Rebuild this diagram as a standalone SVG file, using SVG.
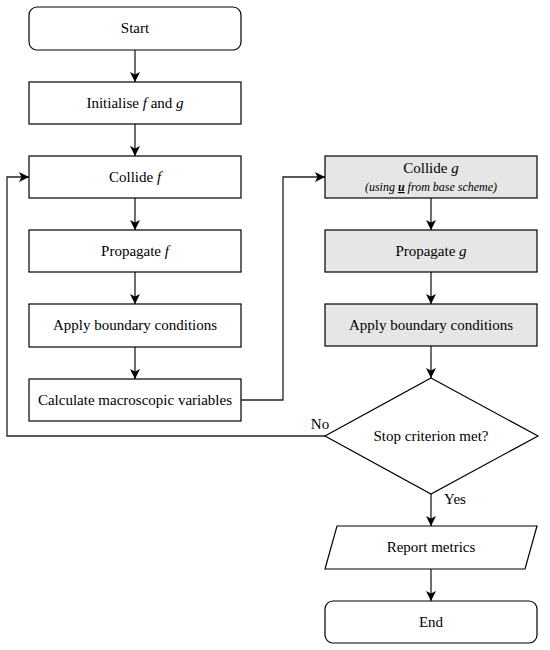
<svg xmlns="http://www.w3.org/2000/svg" width="550" height="650" viewBox="0 0 550 650">
<defs>
<marker id="ah" markerWidth="10" markerHeight="10" viewBox="0 0 10 10" refX="10" refY="5" orient="auto" markerUnits="userSpaceOnUse">
<path d="M0,0 L10,5 L0,10 L2.5,5 Z" fill="#000"/>
</marker>
<style>
.box{fill:#fff;stroke:#000;stroke-width:1.2}
.gbox{fill:#e6e6e6;stroke:#000;stroke-width:1.2}
text{font-family:'Liberation Serif','Times New Roman',serif;fill:#000;text-anchor:middle}
.t{font-size:15px}
.s{font-size:12px;font-style:italic}
.c{fill:none;stroke:#222;stroke-width:1.3}
</style>
</defs>
<rect width="550" height="650" fill="#fff"/>
<g id="connectors">
<line class="c" x1="135" y1="50" x2="135" y2="82" marker-end="url(#ah)"/>
<line class="c" x1="135" y1="124" x2="135" y2="156" marker-end="url(#ah)"/>
<line class="c" x1="135" y1="198" x2="135" y2="230" marker-end="url(#ah)"/>
<line class="c" x1="135" y1="272" x2="135" y2="304" marker-end="url(#ah)"/>
<line class="c" x1="135" y1="347" x2="135" y2="379" marker-end="url(#ah)"/>
<polyline class="c" points="241,400 283,400 283,177 325,177" marker-end="url(#ah)"/>
<line class="c" x1="431" y1="198" x2="431" y2="230" marker-end="url(#ah)"/>
<line class="c" x1="431" y1="272" x2="431" y2="304" marker-end="url(#ah)"/>
<line class="c" x1="431" y1="346" x2="431" y2="378" marker-end="url(#ah)"/>
<polyline class="c" points="325,436 7,436 7,177 29,177" marker-end="url(#ah)"/>
<line class="c" x1="431" y1="494" x2="431" y2="526" marker-end="url(#ah)"/>
<line class="c" x1="431" y1="569" x2="431" y2="601" marker-end="url(#ah)"/>
<text class="t" x="320" y="429">No</text>
<text class="t" x="455" y="504">Yes</text>
</g>
<g id="start">
<rect class="box" x="29" y="7" width="212" height="43" rx="8"/>
<text class="t" x="135" y="33">Start</text>
</g>
<g id="init">
<rect class="box" x="29" y="82" width="212" height="42"/>
<text class="t" x="135" y="108">Initialise <tspan font-style="italic">f</tspan> and <tspan font-style="italic">g</tspan></text>
</g>
<g id="collide-f">
<rect class="box" x="29" y="156" width="212" height="42"/>
<text class="t" x="135" y="182">Collide <tspan font-style="italic">f</tspan></text>
</g>
<g id="propagate-f">
<rect class="box" x="29" y="230" width="212" height="42"/>
<text class="t" x="135" y="256">Propagate <tspan font-style="italic">f</tspan></text>
</g>
<g id="bc-f">
<rect class="box" x="29" y="304" width="212" height="43"/>
<text class="t" x="135" y="330">Apply boundary conditions</text>
</g>
<g id="macro">
<rect class="box" x="29" y="379" width="212" height="42"/>
<text class="t" x="135" y="405">Calculate macroscopic variables</text>
</g>
<g id="collide-g">
<rect class="gbox" x="325" y="156" width="212" height="42"/>
<text class="t" x="431" y="173">Collide <tspan font-style="italic">g</tspan></text>
<text class="s" x="431" y="191">(using <tspan text-decoration="underline" font-weight="bold">u</tspan> from base scheme)</text>
</g>
<g id="propagate-g">
<rect class="gbox" x="325" y="230" width="212" height="42"/>
<text class="t" x="431" y="256">Propagate <tspan font-style="italic">g</tspan></text>
</g>
<g id="bc-g">
<rect class="gbox" x="325" y="304" width="212" height="42"/>
<text class="t" x="431" y="330">Apply boundary conditions</text>
</g>
<g id="decision">
<polygon class="box" points="431,378 538,436 431,494 325,436"/>
<text class="t" x="431" y="441">Stop criterion met?</text>
</g>
<g id="report">
<polygon class="box" points="337,526 537,526 525,569 325,569"/>
<text class="t" x="431" y="552">Report metrics</text>
</g>
<g id="end">
<rect class="box" x="325" y="601" width="212" height="42" rx="8"/>
<text class="t" x="431" y="627">End</text>
</g>
</svg>
